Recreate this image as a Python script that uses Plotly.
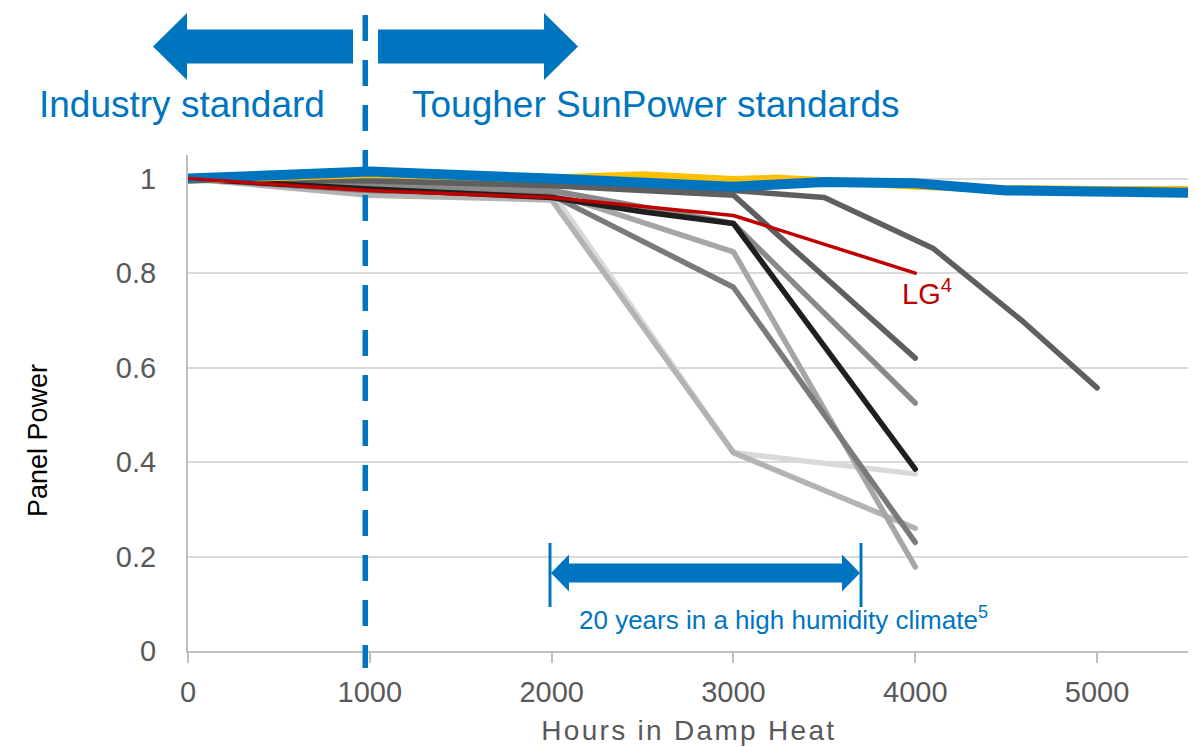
import plotly.graph_objects as go

# ---------------- data ----------------
hours_std = [0, 1000, 2000, 3000, 4000]
light_a = [1.0, 0.97, 0.972, 0.42, 0.375]
light_b = [1.0, 0.965, 0.955, 0.42, 0.26]
mid_a = [1.0, 0.975, 0.97, 0.845, 0.178]
mid_b = [1.0, 0.975, 0.965, 0.77, 0.23]
mid_c = [1.0, 0.985, 0.975, 0.905, 0.525]
dark_a = [1.0, 0.995, 0.985, 0.965, 0.62]

hours_long = [0, 1000, 2000, 3000, 3500, 4100, 4600, 5000]
dark_b = [1.0, 0.997, 0.99, 0.975, 0.96, 0.852, 0.695, 0.557]

hours_black = [0, 1000, 2000, 2500, 3000, 4000]
black_vals = [1.0, 0.978, 0.96, 0.93, 0.905, 0.385]

hours_yellow = [0, 1000, 2000, 2500, 3000, 3250, 4000, 4500, 5000, 5500]
yellow_vals = [0.997, 1.01, 1.0, 1.007, 0.997, 1.0, 0.985, 0.978, 0.976, 0.976]

hours_sp = [0, 1000, 2000, 3000, 3500, 4000, 4500, 5000, 5500]
sunpower_vals = [1.0, 1.015, 1.0, 0.983, 0.993, 0.99, 0.975, 0.97, 0.97]

hours_lg = [0, 1000, 2000, 3000, 4000]
lg_vals = [1.0, 0.975, 0.96, 0.922, 0.80]

x_ticks = [0, 1000, 2000, 3000, 4000, 5000]
y_ticks = [0, 0.2, 0.4, 0.6, 0.8, 1.0]
y_tick_labels = ["0", "0.2", "0.4", "0.6", "0.8", "1"]

# ---------------- styling ----------------
BLUE = "#0075BF"
RED = "#C00000"
FONT = "Arial, Liberation Sans, sans-serif"
W, H = 1197, 747
L, R, T, B = 188, 1188, 155, 651


def pxx(p):
    return (p - L) / (R - L)


def pxy(p):
    return (B - p) / (B - T)


series = [
    (hours_std, light_a, "#d9d9d9", 5.5),
    (hours_std, light_b, "#b3b3b3", 5.5),
    (hours_std, mid_a, "#a6a6a6", 5.5),
    (hours_std, mid_b, "#7a7a7a", 5.5),
    (hours_std, mid_c, "#898989", 5.5),
    (hours_std, dark_a, "#5f5f5f", 5.5),
    (hours_long, dark_b, "#5f5f5f", 5.5),
    (hours_black, black_vals, "#1f1f1f", 5.5),
    (hours_yellow, yellow_vals, "#FFC000", 8),
    (hours_sp, sunpower_vals, BLUE, 10),
    (hours_lg, lg_vals, RED, 3.5),
]

fig = go.Figure()
for xs, ys, col, wd in series:
    fig.add_trace(go.Scatter(x=xs, y=ys, mode="lines",
                             line=dict(color=col, width=wd),
                             hoverinfo="skip", showlegend=False))

shapes = []
# dashed divider at ~1000 h
shapes.append(dict(type="line", xref="x", yref="paper", x0=975, x1=975,
                   y0=pxy(15), y1=pxy(668),
                   line=dict(color=BLUE, width=5.5, dash="26px,19px")))


def block_arrow(tip, base, body_end, yc, head_half, body_half):
    pts = [
        (tip, yc),
        (base, yc - head_half),
        (base, yc - body_half),
        (body_end, yc - body_half),
        (body_end, yc + body_half),
        (base, yc + body_half),
        (base, yc + head_half),
    ]
    return "M " + " L ".join(f"{pxx(a):.5f},{pxy(b):.5f}" for a, b in pts) + " Z"


shapes.append(dict(type="path", xref="paper", yref="paper",
                   path=block_arrow(153, 187, 353, 46.5, 33.5, 17),
                   fillcolor=BLUE, line=dict(width=0)))
shapes.append(dict(type="path", xref="paper", yref="paper",
                   path=block_arrow(578, 544, 378, 46.5, 33.5, 17),
                   fillcolor=BLUE, line=dict(width=0)))

# bottom double-headed arrow (20 years)
ax0, ax1 = 550, 861
shapes.append(dict(type="line", xref="paper", yref="paper",
                   x0=pxx(ax0), x1=pxx(ax0), y0=pxy(543), y1=pxy(607),
                   line=dict(color=BLUE, width=3)))
shapes.append(dict(type="line", xref="paper", yref="paper",
                   x0=pxx(ax1), x1=pxx(ax1), y0=pxy(543), y1=pxy(607),
                   line=dict(color=BLUE, width=3)))
yc = 573
pts = [(ax0 + 1, yc), (ax0 + 19, yc - 18.5), (ax0 + 19, yc - 9.5),
       (ax1 - 19, yc - 9.5), (ax1 - 19, yc - 18.5), (ax1 - 1, yc),
       (ax1 - 19, yc + 18.5), (ax1 - 19, yc + 9.5), (ax0 + 19, yc + 9.5),
       (ax0 + 19, yc + 18.5)]
shapes.append(dict(type="path", xref="paper", yref="paper",
                   path="M " + " L ".join(f"{pxx(a):.5f},{pxy(b):.5f}" for a, b in pts) + " Z",
                   fillcolor=BLUE, line=dict(width=0)))

annotations = [
    dict(text="Industry standard", x=pxx(182), y=pxy(105), xref="paper", yref="paper",
         showarrow=False, font=dict(family=FONT, size=37, color=BLUE),
         xanchor="center", yanchor="middle"),
    dict(text="Tougher SunPower standards", x=pxx(655), y=pxy(105), xref="paper", yref="paper",
         showarrow=False, font=dict(family=FONT, size=37, color=BLUE),
         xanchor="center", yanchor="middle"),
    dict(text="LG<sup>4</sup>", x=pxx(900), y=pxy(292), xref="paper", yref="paper",
         showarrow=False, font=dict(family=FONT, size=29, color=RED),
         xanchor="left", yanchor="middle"),
    dict(text="20 years in a high humidity climate<sup>5</sup>", x=pxx(577), y=pxy(618),
         xref="paper", yref="paper", showarrow=False,
         font=dict(family=FONT, size=26, color=BLUE), xanchor="left", yanchor="middle"),
    dict(text="Hours in Damp Heat", x=pxx(689), y=pxy(730), xref="paper", yref="paper",
         showarrow=False, font=dict(family=FONT, size=28, color="#595959"),
         xanchor="center", yanchor="middle"),
    dict(text="Panel Power", x=pxx(38), y=pxy(441), xref="paper", yref="paper",
         showarrow=False, textangle=-90, font=dict(family=FONT, size=27, color="#000000"),
         xanchor="center", yanchor="middle"),
]

fig.update_layout(
    width=W, height=H,
    margin=dict(l=L, r=W - R, t=T, b=H - B, pad=0),
    paper_bgcolor="white", plot_bgcolor="white",
    shapes=shapes, annotations=annotations,
    font=dict(family=FONT),
    xaxis=dict(range=[0, 5500], tickvals=x_ticks, showgrid=False, zeroline=False,
               showline=True, linecolor="#bfbfbf", linewidth=2,
               ticks="outside", ticklen=10, tickwidth=2, tickcolor="#bfbfbf",
               ticklabelstandoff=4,
               tickfont=dict(family=FONT, size=29, color="#595959")),
    yaxis=dict(range=[0, 1.05], tickvals=y_ticks, ticktext=y_tick_labels,
               showgrid=True, gridcolor="#d9d9d9", gridwidth=2, zeroline=False,
               showline=True, linecolor="#bfbfbf", linewidth=2,
               ticks="", ticklabelstandoff=24,
               tickfont=dict(family=FONT, size=29, color="#595959")),
)

post = """
document.querySelectorAll('.js-line').forEach(function(e){
  e.style.strokeLinecap='round'; e.style.strokeLinejoin='round';
});
document.querySelectorAll('.annotation-text').forEach(function(e){
  if (e.textContent === 'Hours in Damp Heat') { e.style.letterSpacing = '2.3px'; }
});
"""
fig.write_html("out.html", post_script=post, config={"displayModeBar": False})
